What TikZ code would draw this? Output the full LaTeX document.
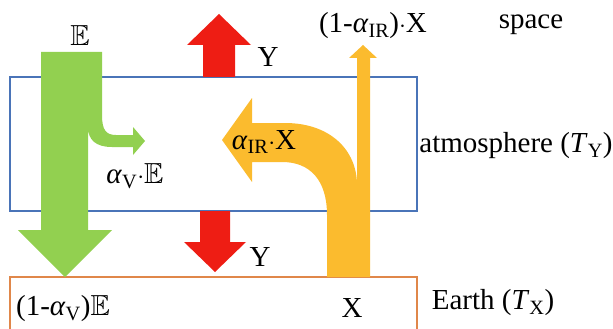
\documentclass[tikz,border=0pt]{standalone}
\usepackage{amsmath, amssymb}
\usepackage{fontspec}
\setmainfont{Liberation Serif}
\usepackage{tikz}

\definecolor{leaf}{HTML}{92D050}
\definecolor{heat}{HTML}{EE1D14}
\definecolor{glow}{HTML}{FBBB2E}
\definecolor{airline}{HTML}{4A74B8}
\definecolor{groundline}{HTML}{E0874A}

\newcommand{\alf}[1]{\textit{α}$_{\mathrm{#1}}$}

\begin{document}
\begin{tikzpicture}[
  x=1pt, y=-1pt,
  lbl/.style={inner sep=0pt, font=\fontsize{29}{34}\selectfont},
  layer/.style={line width=1.4pt}
]
\useasboundingbox (0,0) rectangle (613,329);

% layers
\draw[layer, airline] (10,77) rectangle (417,211);
\draw[layer, groundline] (10,335) -- (10,277) -- (417,277) -- (417,335);

% sunlight
\fill[leaf] (41,52) -- (102,52) -- (102,115)
  .. controls (102,130) and (106,135) .. (116,135) -- (133,135) -- (133,127)
  -- (145,141) -- (133,155) -- (133,147) -- (112,147)
  .. controls (96,147) and (88,140) .. (88,127)
  -- (88,230) -- (112,230) -- (65,277) -- (18,230) -- (41,230) -- cycle;

% atmosphere radiation
\fill[heat] (203,77) -- (203,45) -- (187,45) -- (219,14) -- (251,45) -- (235,45) -- (235,77) -- cycle;
\fill[heat] (200,211) -- (230,211) -- (230,242) -- (246,242) -- (215,272) -- (184,242) -- (200,242) -- cycle;

% earth radiation
\fill[glow] (357,185) -- (357,58) -- (349,58) -- (363,45) -- (377,58) -- (370,58)
  -- (370,277) -- (327,277) -- (327,215)
  .. controls (327,180) and (310,162) .. (282,162) -- (252,162) -- (252,182)
  -- (222,140) -- (252,98) -- (252,123) -- (285,123)
  .. controls (330,123) and (357,150) .. (357,185) -- cycle;

% labels
\node[lbl] (sun) at (80,36) {$\mathbb{E}$};
\node[lbl] (absorbV) at (135,176) {\alf{V}$\cdot\mathbb{E}$};
\node[lbl] (passV) at (63,309) {(1-\alf{V})$\mathbb{E}$};
\node[lbl] (upY) at (268,57) {Y};
\node[lbl] (downY) at (260,257) {Y};
\node[lbl] (absorbIR) at (264,142) {\alf{IR}$\cdot$X};
\node[lbl] (passIR) at (373,26) {(1-\alf{IR})$\cdot$X};
\node[lbl] (groundX) at (352,308) {X};
\node[lbl] (space) at (531,25) {space};
\node[lbl] (atmos) at (516,146) {atmosphere (\textit{T}$_{\mathrm{Y}}$)};
\node[lbl] (earth) at (493,303) {Earth (\textit{T}$_{\mathrm{X}}$)};
\end{tikzpicture}
\end{document}
